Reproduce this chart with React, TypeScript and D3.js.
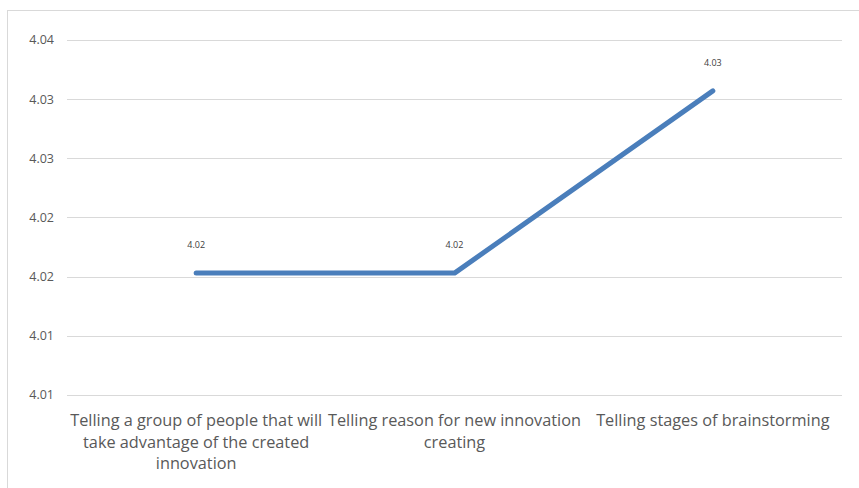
import React from "react";
import * as d3 from "d3";

const categories: string[][] = [
  ["Telling a group of people that will", "take advantage of the created", "innovation"],
  ["Telling reason for new innovation", "creating"],
  ["Telling stages of brainstorming"],
];
const values: number[] = [4.0203, 4.0203, 4.0357];
const valueLabels: string[] = ["4.02", "4.02", "4.03"];
const yTicks: number[] = [4.01, 4.015, 4.02, 4.025, 4.03, 4.035, 4.04];
const yTickLabels: string[] = ["4.01", "4.01", "4.02", "4.02", "4.03", "4.03", "4.04"];

const W = 859;
const H = 488;
const plot = { left: 67, right: 842, top: 40, bottom: 395 };

export default function App() {
  const x = d3
    .scaleBand<number>()
    .domain(categories.map((_, i) => i))
    .range([plot.left, plot.right]);
  const y = d3.scaleLinear().domain([4.01, 4.04]).range([plot.bottom, plot.top]);
  const cx = (i: number) => (x(i) as number) + x.bandwidth() / 2;
  const line = d3
    .line<number>()
    .x((_, i) => cx(i))
    .y((d) => y(d));

  return (
    <svg
      width={W}
      height={H}
      style={{ position: "absolute", left: 0, top: 0, background: "#fff" }}
      fontFamily="'Open Sans', 'Liberation Sans', sans-serif"
    >
      <rect x={7.5} y={10.5} width={W} height={H} fill="#fff" stroke="#d9d9d9" strokeWidth={1} />
      {yTicks.map((t, k) => (
        <g key={t}>
          <line
            x1={plot.left}
            x2={plot.right}
            y1={Math.round(y(t)) + 0.5}
            y2={Math.round(y(t)) + 0.5}
            stroke="#d9d9d9"
            strokeWidth={1}
          />
          <text
            x={54}
            y={y(t)}
            dy="0.35em"
            textAnchor="end"
            fontSize={12.5}
            fill="#595959"
          >
            {yTickLabels[k]}
          </text>
        </g>
      ))}
      <path
        d={line(values) || ""}
        fill="none"
        stroke="#4a7ebb"
        strokeWidth={5}
        strokeLinecap="round"
        strokeLinejoin="round"
      />
      {values.map((v, i) => (
        <text
          key={i}
          x={cx(i)}
          y={y(v) - 25}
          textAnchor="middle"
          fontSize={9}
          fill="#404040"
        >
          {valueLabels[i]}
        </text>
      ))}
      {categories.map((lines, i) => (
        <text key={i} textAnchor="middle" fontSize={16.3} fill="#595959">
          {lines.map((l, j) => (
            <tspan key={j} x={cx(i)} y={426 + j * 21.5}>
              {l}
            </tspan>
          ))}
        </text>
      ))}
    </svg>
  );
}
